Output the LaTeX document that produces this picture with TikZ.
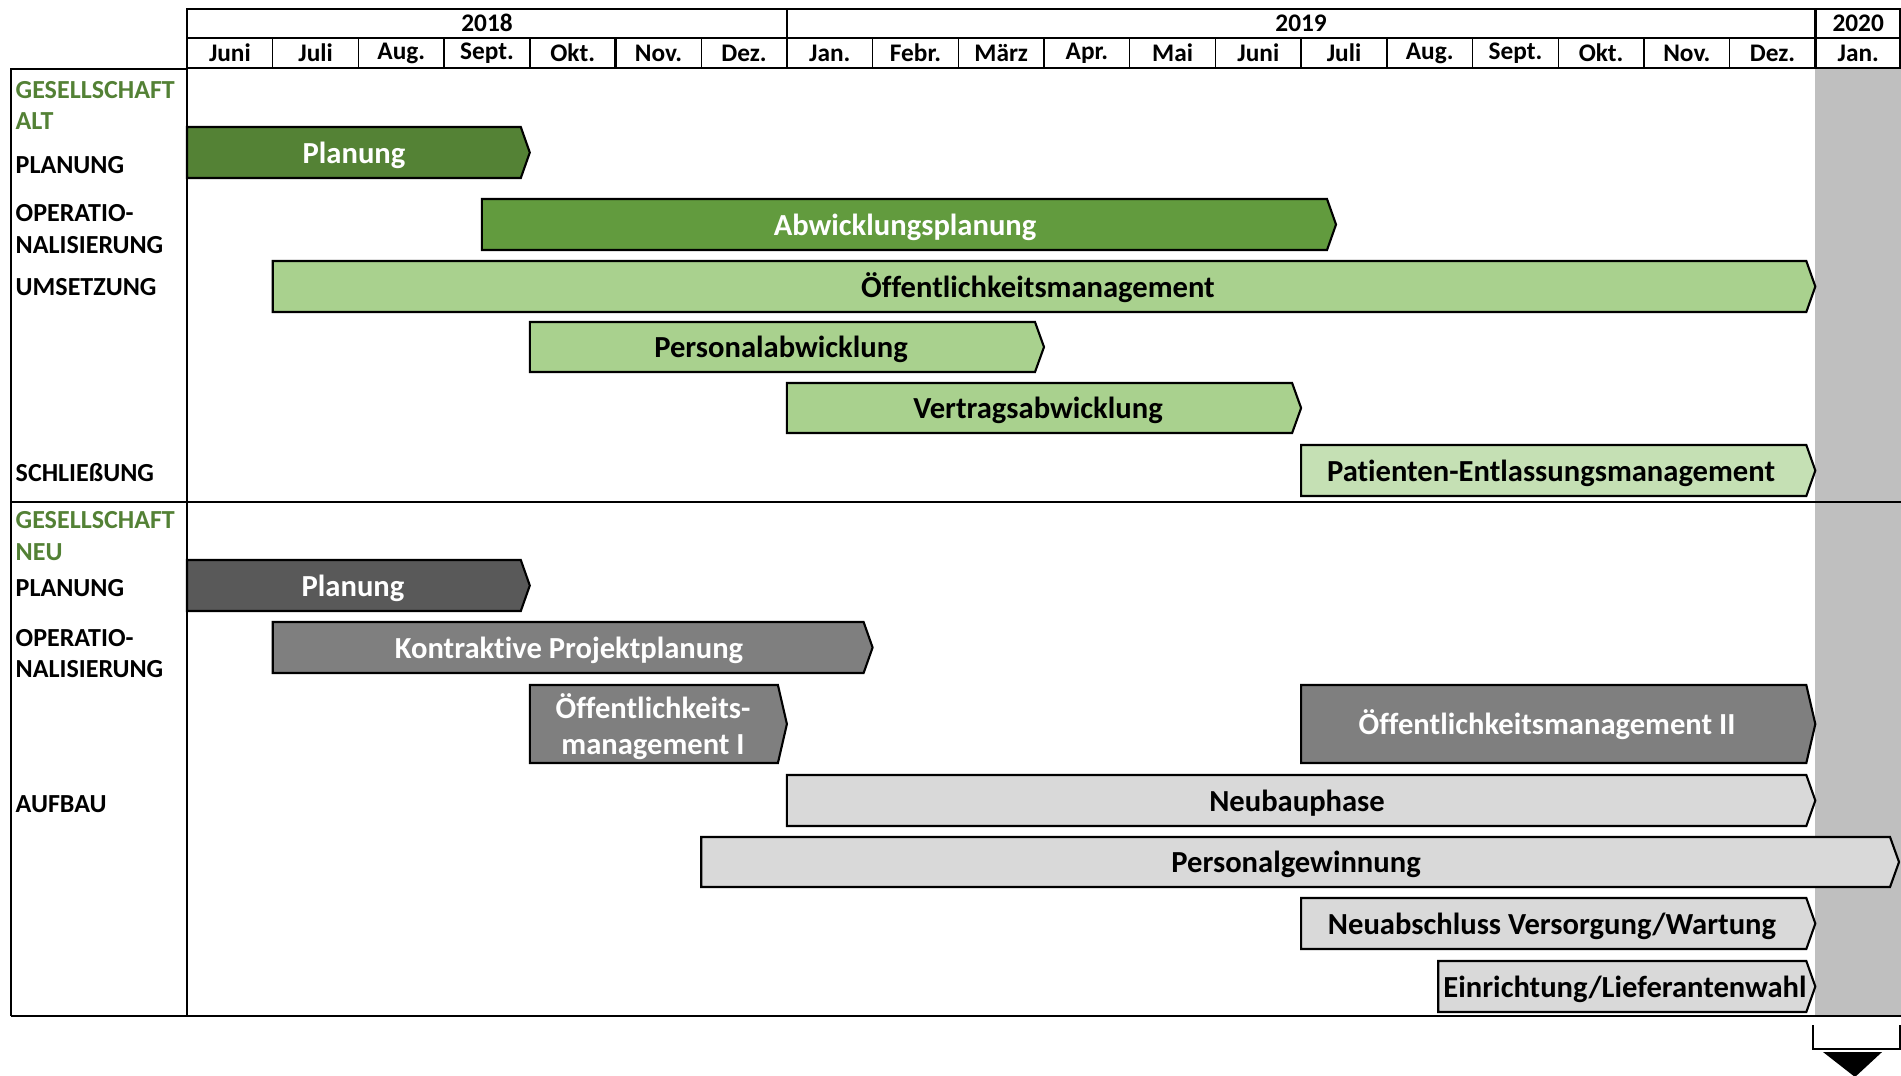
\documentclass[tikz,border=0pt]{standalone}
\usepackage{fontspec}
\setmainfont{Carlito}[Ligatures=NoCommon]
\usepackage{xcolor}
\usepackage{tikz}
\usetikzlibrary{calc}
\definecolor{gruenDunkel}{HTML}{548235}
\definecolor{gruenMittel}{HTML}{629B3E}
\definecolor{gruenHell}{HTML}{A9D18E}
\definecolor{gruenBlass}{HTML}{C5E0B4}
\definecolor{grauDunkel}{HTML}{595959}
\definecolor{grauMittel}{HTML}{7F7F7F}
\definecolor{grauHell}{HTML}{D9D9D9}
\definecolor{grauSpalte}{HTML}{BFBFBF}
\definecolor{gruenText}{HTML}{538135}
\tikzset{
    bar/.style={draw=black, line width=0.6pt, line join=miter},
    bartext/.style={inner sep=0pt, align=center, text height=5.6pt, text depth=0pt, font=\fontsize{8.7}{10.3}\selectfont\bfseries},
    rowlabel/.style={anchor=west, inner sep=0pt, font=\fontsize{7.4}{8}\selectfont\bfseries},
    headtext/.style={inner sep=0pt, font=\fontsize{7.2}{8}\selectfont\bfseries},
    frame/.style={line width=0.8pt}}

\begin{document}
\begin{tikzpicture}[x=0.01cm,y=-0.01cm]
\useasboundingbox (0,0) rectangle (1901,1075);
% Januar 2020 grau hinterlegt
\fill[grauSpalte] (1815.3,69) rectangle (1901,1016);
% Kopfzeile
\draw[frame] (187,9) rectangle (1900,68);
\draw[frame] (187,38) -- (1900,38);
\draw[frame] (786.9,9) -- (786.9,38);
\draw[frame] (1815.3,9) -- (1815.3,38);
\node[headtext] (j2018) at (487,23) {2018};
\node[headtext] (j2019) at (1301.1,23) {2019};
\node[headtext] (j2020) at (1858.2,23) {2020};
\draw (272.7,38) -- (272.7,68);
\draw (358.4,38) -- (358.4,68);
\draw (444.1,38) -- (444.1,68);
\draw (529.8,38) -- (529.8,68);
\draw[frame] (615.5,38) -- (615.5,68);
\draw (701.2,38) -- (701.2,68);
\draw (786.9,38) -- (786.9,68);
\draw (872.6,38) -- (872.6,68);
\draw (958.3,38) -- (958.3,68);
\draw (1044.0,38) -- (1044.0,68);
\draw (1129.7,38) -- (1129.7,68);
\draw (1215.4,38) -- (1215.4,68);
\draw (1301.1,38) -- (1301.1,68);
\draw (1386.8,38) -- (1386.8,68);
\draw (1472.5,38) -- (1472.5,68);
\draw (1558.2,38) -- (1558.2,68);
\draw (1643.9,38) -- (1643.9,68);
\draw (1729.6,38) -- (1729.6,68);
\draw[frame] (1815.3,38) -- (1815.3,68);
\node[headtext] (m1) at (229.9,53) {Juni};
\node[headtext] (m2) at (315.6,53) {Juli};
\node[headtext] (m3) at (401.3,53) {Aug.};
\node[headtext] (m4) at (487.0,53) {Sept.};
\node[headtext] (m5) at (572.7,53) {Okt.};
\node[headtext] (m6) at (658.4,53) {Nov.};
\node[headtext] (m7) at (744.1,53) {Dez.};
\node[headtext] (m8) at (829.8,53) {Jan.};
\node[headtext] (m9) at (915.5,53) {Febr.};
\node[headtext] (m10) at (1001.2,53) {März};
\node[headtext] (m11) at (1086.9,53) {Apr.};
\node[headtext] (m12) at (1172.6,53) {Mai};
\node[headtext] (m13) at (1258.3,53) {Juni};
\node[headtext] (m14) at (1344.0,53) {Juli};
\node[headtext] (m15) at (1429.7,53) {Aug.};
\node[headtext] (m16) at (1515.4,53) {Sept.};
\node[headtext] (m17) at (1601.1,53) {Okt.};
\node[headtext] (m18) at (1686.8,53) {Nov.};
\node[headtext] (m19) at (1772.5,53) {Dez.};
\node[headtext] (m20) at (1858.2,53) {Jan.};
% Rahmen und Trennlinien
\draw[frame] (11,1016) -- (11,69) -- (187,69);
\draw[frame] (187,68) -- (187,1016);
\draw[frame] (11,502) -- (1901,502);
\draw[frame] (11,1016) -- (1901,1016);
% Beschriftung links
\node[rowlabel, text=gruenText] (gesAlt1) at (15,90) {GESELLSCHAFT};
\node[rowlabel, text=gruenText] (gesAlt2) at (15,121) {ALT};
\node[rowlabel] (planAltL) at (15,165) {PLANUNG};
\node[rowlabel] (opAlt1) at (15,213) {OPERATIO-};
\node[rowlabel] (opAlt2) at (15,245) {NALISIERUNG};
\node[rowlabel] (umsL) at (15,287) {UMSETZUNG};
\node[rowlabel] (schlL) at (15,473) {SCHLIEßUNG};
\node[rowlabel, text=gruenText] (gesNeu1) at (15,520) {GESELLSCHAFT};
\node[rowlabel, text=gruenText] (gesNeu2) at (15,552) {NEU};
\node[rowlabel] (planNeuL) at (15,588) {PLANUNG};
\node[rowlabel] (opNeu1) at (15,638) {OPERATIO-};
\node[rowlabel] (opNeu2) at (15,669) {NALISIERUNG};
\node[rowlabel] (aufbL) at (15,804) {AUFBAU};
% Gesellschaft alt
\draw[bar, fill=gruenDunkel] (187,127) -- (520.8,127) -- (529.8,152.5) -- (520.8,178) -- (187,178) -- cycle;
\node[bartext, text=white] (planAlt) at (354,153.5) {Planung};
\draw[bar, fill=gruenMittel] (481.8,199) -- (1327,199) -- (1336,224.5) -- (1327,250) -- (481.8,250) -- cycle;
\node[bartext, text=white] (abwPlan) at (905,225.5) {Abwicklungsplanung};
\draw[bar, fill=gruenHell] (272.7,261) -- (1806.3,261) -- (1815.3,286.5) -- (1806.3,312) -- (272.7,312) -- cycle;
\node[bartext] (oeffMan) at (1038,287.5) {Öffentlichkeitsmanagement};
\draw[bar, fill=gruenHell] (529.8,322) -- (1035,322) -- (1044,347) -- (1035,372) -- (529.8,372) -- cycle;
\node[bartext] (persAbw) at (781,348) {Personalabwicklung};
\draw[bar, fill=gruenHell] (786.9,383) -- (1292.1,383) -- (1301.1,408) -- (1292.1,433) -- (786.9,433) -- cycle;
\node[bartext] (vertrAbw) at (1038,409) {Vertragsabwicklung};
\draw[bar, fill=gruenBlass] (1301.1,445) -- (1806.3,445) -- (1815.3,470.5) -- (1806.3,496) -- (1301.1,496) -- cycle;
\node[bartext] (patEntl) at (1551,471.5) {Patienten-Entlassungsmanagement};
% Gesellschaft neu
\draw[bar, fill=grauDunkel] (187,560) -- (520.8,560) -- (529.8,585.5) -- (520.8,611) -- (187,611) -- cycle;
\node[bartext, text=white] (planNeu) at (353,586.5) {Planung};
\draw[bar, fill=grauMittel] (272.7,622) -- (863.6,622) -- (872.6,647.5) -- (863.6,673) -- (272.7,673) -- cycle;
\node[bartext, text=white] (kontrPlan) at (569,648.5) {Kontraktive Projektplanung};
\draw[bar, fill=grauMittel] (529.8,685) -- (777.9,685) -- (786.9,724) -- (777.9,763) -- (529.8,763) -- cycle;
\node[bartext, text height=, text depth=, text=white] (oeffManI) at (653,726.5) {Öffentlichkeits-\\management I};
\draw[bar, fill=grauMittel] (1301.1,685) -- (1806.3,685) -- (1815.3,724) -- (1806.3,763) -- (1301.1,763) -- cycle;
\node[bartext, text=white] (oeffManII) at (1547,725) {Öffentlichkeitsmanagement II};
\draw[bar, fill=grauHell] (786.9,775) -- (1806.3,775) -- (1815.3,800.5) -- (1806.3,826) -- (786.9,826) -- cycle;
\node[bartext] (neubau) at (1297,801.5) {Neubauphase};
\draw[bar, fill=grauHell] (701.2,837) -- (1890,837) -- (1899,862) -- (1890,887) -- (701.2,887) -- cycle;
\node[bartext] (persGew) at (1296,863) {Personalgewinnung};
\draw[bar, fill=grauHell] (1301.1,898) -- (1806.3,898) -- (1815.3,923.5) -- (1806.3,949) -- (1301.1,949) -- cycle;
\node[bartext] (neuabschl) at (1552,924.5) {Neuabschluss Versorgung/Wartung};
\draw[bar, fill=grauHell] (1438.2,961) -- (1806.3,961) -- (1815.3,986.5) -- (1806.3,1012) -- (1438.2,1012) -- cycle;
\node[bartext] (einr) at (1625,987.5) {Einrichtung/Lieferantenwahl};
% Klammer mit Pfeil unten rechts
\draw[line width=0.7pt] (1813,1025) -- (1813,1049) -- (1900,1049) -- (1900,1025);
\fill (1823,1052) -- (1882,1052) -- (1855,1077) -- cycle;
\end{tikzpicture}
\end{document}
